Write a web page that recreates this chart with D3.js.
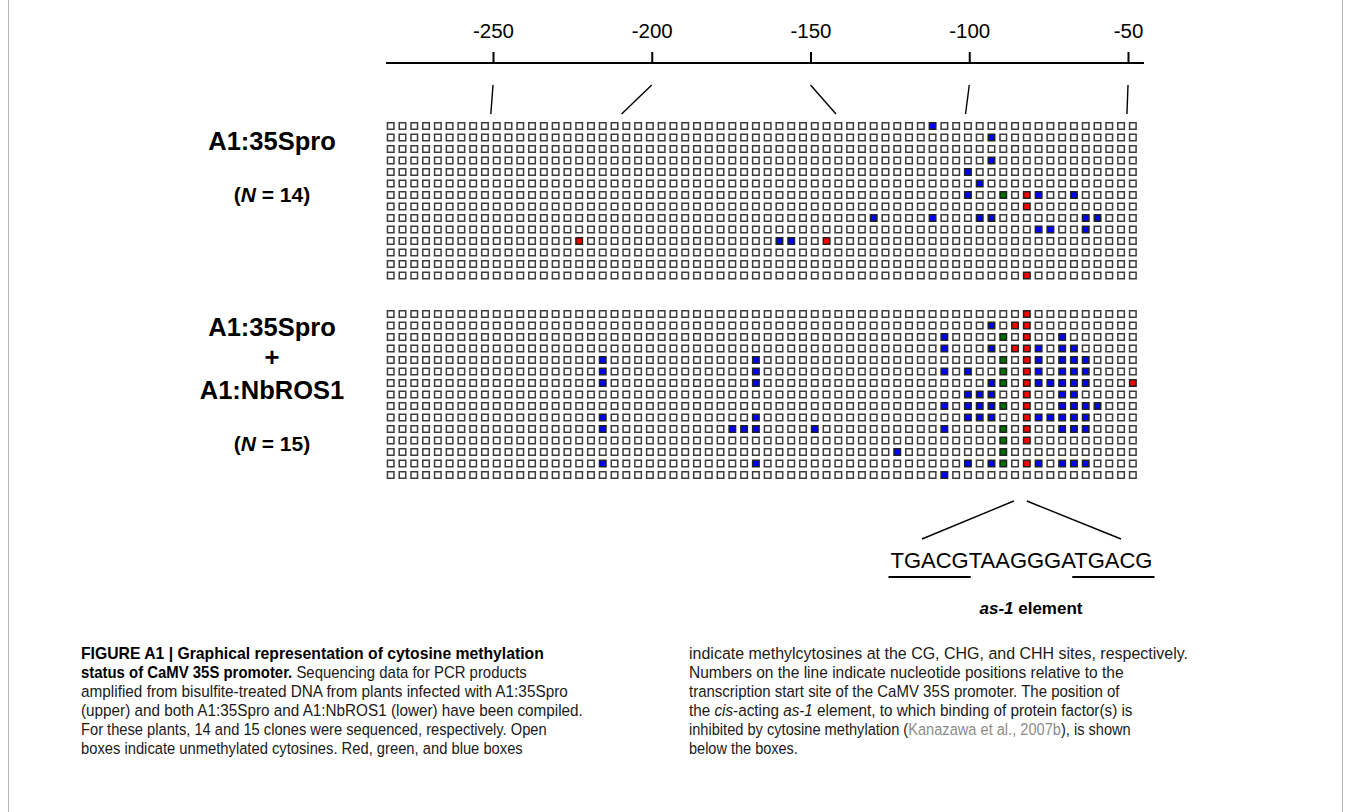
<!DOCTYPE html>
<html>
<head>
<meta charset="utf-8">
<script src="https://cdn.jsdelivr.net/npm/d3@7"></script>
<style>
  body { margin: 0; background: #fff; }
  svg text { font-family: "Liberation Sans", Arial, sans-serif; }
</style>
</head>
<body>
<svg id="chart" width="1351" height="812"></svg>
<script>
// nucleotide positions shown on the ruler, and the column each one points to
const rulerTicks = [-250, -200, -150, -100, -50]
const rulerCols = [8.5, 19.6, 37.8, 48.8, 62.5]

const nCols = 64
const upperRows = 14
const lowerRows = 15

// methylated sites, one array of column indices per clone (row)
const upperCG  = [[], [], [], [], [], [], [54], [54], [], [], [16, 37], [], [], [54]]
const upperCHG = [[], [], [], [], [], [], [52], [], [], [], [], [], [], []]
const upperCHH = [[46], [51], [], [51], [49], [50], [49, 55, 58], [], [41, 46, 50, 51, 59, 60], [55, 56, 59], [33, 34], [], [], []]

const lowerCG  = [[54], [53, 54], [54], [53, 54], [54], [54], [54, 63], [54], [54], [54], [54], [54], [], [54], []]
const lowerCHG = [[], [], [52], [], [52], [52], [52], [], [52], [], [52], [52], [52], [52], []]
const lowerCHH = [[], [51], [47, 57], [47, 51, 55, 57, 58], [18, 31, 55, 57, 58, 59],
  [18, 31, 47, 49, 55, 57, 58, 59], [18, 31, 51, 55, 56, 57, 58, 59], [49, 50, 51, 57, 58],
  [47, 49, 50, 51, 57, 58, 59, 60], [18, 31, 49, 50, 51, 55, 56, 57, 58, 59],
  [18, 29, 30, 31, 36, 47, 57, 58, 59], [], [43], [18, 31, 49, 51, 55, 57, 58, 59], [47]]

const siteColors = { CG: '#ff0000', CHG: '#006e00', CHH: '#0000ff' }

const as1Seq = ['TGACG', 'TAAGGGA', 'TGACG']
const as1Col = 54

const captionLeft = [
  [['FIGURE A1 | Graphical representation of cytosine methylation', 'b']],
  [['status of CaMV 35S promoter.', 'b'], [' Sequencing data for PCR products']],
  [['amplified from bisulfite-treated DNA from plants infected with A1:35Spro']],
  [['(upper) and both A1:35Spro and A1:NbROS1 (lower) have been compiled.']],
  [['For these plants, 14 and 15 clones were sequenced, respectively. Open']],
  [['boxes indicate unmethylated cytosines. Red, green, and blue boxes']]
]
const captionRight = [
  [['indicate methylcytosines at the CG, CHG, and CHH sites, respectively.']],
  [['Numbers on the line indicate nucleotide positions relative to the']],
  [['transcription start site of the CaMV 35S promoter. The position of']],
  [['the '], ['cis', 'i'], ['-acting '], ['as-1', 'i'], [' element, to which binding of protein factor(s) is']],
  [['inhibited by cytosine methylation ('], ['Kanazawa et al., 2007b', 'g'], ['), is shown']],
  [['below the boxes.']]
]
const captionLeftEnds = [544, 527, 568, 583, 547, 523]
const captionRightEnds = [1188, 1124, 1120, 1133, 1131, 798]

const svg = d3.select('#chart')

// figure frame (side rules)
svg.append('line').attr('x1', 8.5).attr('x2', 8.5).attr('y1', 0).attr('y2', 812)
  .attr('stroke', '#b4b4b4').attr('stroke-width', 1)
svg.append('line').attr('x1', 1342.5).attr('x2', 1342.5).attr('y1', 0).attr('y2', 812)
  .attr('stroke', '#b4b4b4').attr('stroke-width', 1)

// scales
const boxSize = 8
const xCol = d3.scaleLinear().domain([0, nCols - 1]).range([386.7, 386.7 + (nCols - 1) * 11.78])
const yUpper = d3.scaleLinear().domain([0, upperRows - 1]).range([122, 122 + (upperRows - 1) * 11.5])
const yLower = d3.scaleLinear().domain([0, lowerRows - 1]).range([310, 310 + (lowerRows - 1) * 11.5])
const xPos = d3.scaleLinear().domain([-250, -50]).range([493, 1128])

// ruler
svg.append('line')
  .attr('x1', 386).attr('x2', 1144).attr('y1', 63).attr('y2', 63)
  .attr('stroke', '#000').attr('stroke-width', 2)

const ruler = d3.axisTop(xPos).tickValues(rulerTicks).tickSize(11).tickPadding(14).tickFormat(d3.format('d'))
const rulerG = svg.append('g').attr('transform', 'translate(0,63)').call(ruler)
rulerG.select('.domain').remove()
rulerG.selectAll('.tick line').attr('stroke', '#000').attr('stroke-width', 2)
rulerG.selectAll('.tick text')
  .attr('font-size', 20.5).attr('fill', '#000')
  .style('font-family', '"Liberation Sans", Arial, sans-serif')
  .text(d => d.toString())

// connectors from ruler to columns
svg.selectAll('.connector')
  .data(rulerTicks)
  .enter()
  .append('line')
  .attr('class', 'connector')
  .attr('x1', d => xPos(d))
  .attr('y1', 85)
  .attr('x2', (d, i) => xCol(rulerCols[i]) + boxSize / 2)
  .attr('y2', 114)
  .attr('stroke', '#000').attr('stroke-width', 1.4)

function drawGrid(nRows, yScale, cg, chg, chh) {
  const cells = []
  for (let r = 0; r < nRows; r++) {
    for (let c = 0; c < nCols; c++) {
      let type = null
      if (cg[r].includes(c)) type = 'CG'
      else if (chg[r].includes(c)) type = 'CHG'
      else if (chh[r].includes(c)) type = 'CHH'
      cells.push({ r, c, type })
    }
  }
  svg.append('g')
    .selectAll('rect')
    .data(cells)
    .enter()
    .append('rect')
    .attr('x', d => xCol(d.c) + 0.75)
    .attr('y', d => yScale(d.r) + 0.75)
    .attr('width', boxSize - 1.5)
    .attr('height', boxSize - 1.5)
    .attr('fill', d => d.type ? siteColors[d.type] : '#fff')
    .attr('stroke', d => d.type ? '#202020' : '#3c3c3c')
    .attr('stroke-width', 1.5)
}

drawGrid(upperRows, yUpper, upperCG, upperCHG, upperCHH)
drawGrid(lowerRows, yLower, lowerCG, lowerCHG, lowerCHH)

// group labels
const labelX = 272
const groupLabels = [
  { text: 'A1:35Spro', y: 150, size: 25.5 },
  { text: 'A1:35Spro', y: 336, size: 25.5 },
  { text: '+', y: 366, size: 25.5 },
  { text: 'A1:NbROS1', y: 399, size: 25.5 }
]
svg.selectAll('.glabel')
  .data(groupLabels)
  .enter()
  .append('text')
  .attr('class', 'glabel')
  .attr('x', labelX).attr('y', d => d.y)
  .attr('text-anchor', 'middle')
  .attr('font-weight', 'bold')
  .attr('font-size', d => d.size)
  .text(d => d.text)

const nLabels = [{ n: upperRows, y: 202 }, { n: lowerRows, y: 451 }]
nLabels.forEach(d => {
  const t = svg.append('text')
    .attr('x', labelX).attr('y', d.y)
    .attr('text-anchor', 'middle')
    .attr('font-weight', 'bold')
    .attr('font-size', 21)
  t.append('tspan').text('(')
  t.append('tspan').attr('font-style', 'italic').text('N')
  t.append('tspan').text(' = ' + d.n + ')')
})

// as-1 element
const as1X = xCol(as1Col) + boxSize / 2 - 6
svg.append('line')
  .attr('x1', as1X - 7).attr('y1', 501).attr('x2', 922).attr('y2', 539)
  .attr('stroke', '#000').attr('stroke-width', 1.4)
svg.append('line')
  .attr('x1', as1X + 6).attr('y1', 501).attr('x2', 1121).attr('y2', 539)
  .attr('stroke', '#000').attr('stroke-width', 1.4)

const seqX = 890.5
const seqText = svg.append('text')
  .attr('x', seqX).attr('y', 568)
  .attr('font-size', 22)
  .text(as1Seq.join(''))
const seqNode = seqText.node()
const underlineSpans = [[0, as1Seq[0].length],
  [as1Seq[0].length + as1Seq[1].length, as1Seq[2].length]]
underlineSpans.forEach(([start, len]) => {
  const x0 = seqX + (start > 0 ? seqNode.getSubStringLength(0, start) : 0)
  const w = seqNode.getSubStringLength(start, len)
  svg.append('line')
    .attr('x1', x0 - 2).attr('x2', x0 + w + 2)
    .attr('y1', 577).attr('y2', 577)
    .attr('stroke', '#000').attr('stroke-width', 2)
})

const as1Label = svg.append('text')
  .attr('x', 1031).attr('y', 614)
  .attr('text-anchor', 'middle')
  .attr('font-weight', 'bold')
  .attr('font-size', 17)
as1Label.append('tspan').attr('font-style', 'italic').text('as-1')
as1Label.append('tspan').text(' element')

// caption
function drawCaption(lines, x0, ends) {
  lines.forEach((segs, i) => {
    const y = 659 + i * 19
    const g = svg.append('g').attr('transform', `translate(${x0},${y})`)
    const t = g.append('text')
      .attr('x', 0).attr('y', 0)
      .attr('font-size', 17)
      .style('font-family', '"Liberation Sans Narrow", "Liberation Sans", Arial, sans-serif')
      .attr('fill', '#1a1a1a')
    segs.forEach(([txt, style]) => {
      const s = t.append('tspan').text(txt)
      if (style === 'b') s.attr('font-weight', 'bold').attr('fill', '#000')
      if (style === 'i') s.attr('font-style', 'italic')
      if (style === 'g') s.attr('fill', '#8c8c8c')
    })
    const w = t.node().getComputedTextLength()
    const sx = (ends[i] - x0) / w
    g.attr('transform', `translate(${x0},${y}) scale(${sx},1)`)
  })
}
drawCaption(captionLeft, 81, captionLeftEnds)
drawCaption(captionRight, 689, captionRightEnds)
</script>
</body>
</html>
